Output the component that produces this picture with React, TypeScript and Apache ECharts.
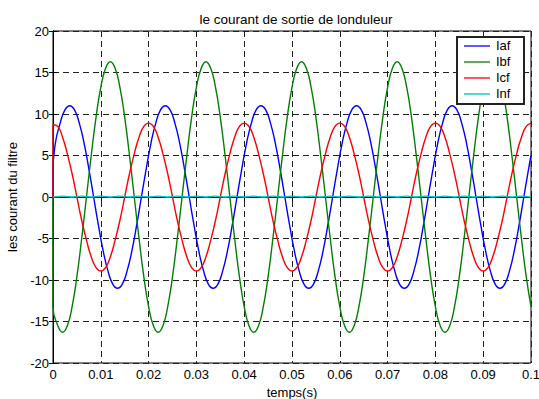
import React, { useEffect, useRef } from 'react';
import * as echarts from 'echarts';

const TITLE = 'le courant de sortie de londuleur';
const X_NAME = 'temps(s)';
const Y_NAME = 'les courant du filtre';
const SERIES_NAMES = ['Iaf', 'Ibf', 'Icf', 'Inf'];
const SERIES_COLORS = ['#0000ff', '#008000', '#ff0000', '#00bfbf'];

// sample step of the time axis (s) and the time of each series' first regular sample
const T_STEP = 0.001;
const SERIES_T0 = [0.0005, 0, 0, 0];

// the simulation starts from zero current at t = 0
const START_VALUE = 0;
// first (t = 0) and last (t = 0.1) values of Iaf, which is sampled off-grid
const IAF_START = 3.0;
const IAF_END = 5.0;

const iaf = [
  6.5, 8.9, 10.5, 11.0, 10.5, 8.9, 6.5, 3.4, 0.0, -3.4, -6.5, -8.9, -10.5, -11.0, -10.5, -8.9, -6.5, -3.4, 0.0, 3.4,
  6.5, 8.9, 10.5, 11.0, 10.5, 8.9, 6.5, 3.4, 0.0, -3.4, -6.5, -8.9, -10.5, -11.0, -10.5, -8.9, -6.5, -3.4, 0.0, 3.4,
  6.5, 8.9, 10.5, 11.0, 10.5, 8.9, 6.5, 3.4, 0.0, -3.4, -6.5, -8.9, -10.5, -11.0, -10.5, -8.9, -6.5, -3.4, 0.0, 3.4,
  6.5, 8.9, 10.5, 11.0, 10.5, 8.9, 6.5, 3.4, 0.0, -3.4, -6.5, -8.9, -10.5, -11.0, -10.5, -8.9, -6.5, -3.4, 0.0, 3.4,
  6.5, 8.9, 10.5, 11.0, 10.5, 8.9, 6.5, 3.4, 0.0, -3.4, -6.5, -8.9, -10.5, -11.0, -10.5, -8.9, -6.5, -3.4, 0.0, 3.4,
];

const ibf = [
  -13.2, -15.5, -16.3, -15.5, -13.2, -9.6, -5.0, 0.0, 5.0, 9.6, 13.2, 15.5, 16.3, 15.5, 13.2, 9.6, 5.0, 0.0, -5.0, -9.6,
  -13.2, -15.5, -16.3, -15.5, -13.2, -9.6, -5.0, 0.0, 5.0, 9.6, 13.2, 15.5, 16.3, 15.5, 13.2, 9.6, 5.0, 0.0, -5.0, -9.6,
  -13.2, -15.5, -16.3, -15.5, -13.2, -9.6, -5.0, 0.0, 5.0, 9.6, 13.2, 15.5, 16.3, 15.5, 13.2, 9.6, 5.0, 0.0, -5.0, -9.6,
  -13.2, -15.5, -16.3, -15.5, -13.2, -9.6, -5.0, 0.0, 5.0, 9.6, 13.2, 15.5, 16.3, 15.5, 13.2, 9.6, 5.0, 0.0, -5.0, -9.6,
  -13.2, -15.5, -16.3, -15.5, -13.2, -9.6, -5.0, 0.0, 5.0, 9.6, 13.2, 15.5, 16.3, 15.5, 13.2, 9.6, 5.0, 0.0, -5.0, -9.6,
  -13.2,
];

const icf = [
  8.7, 8.5, 7.2, 5.2, 2.8, 0.0, -2.8, -5.2, -7.2, -8.5, -8.9, -8.5, -7.2, -5.2, -2.8, 0.0, 2.8, 5.2, 7.2, 8.5,
  8.9, 8.5, 7.2, 5.2, 2.8, 0.0, -2.8, -5.2, -7.2, -8.5, -8.9, -8.5, -7.2, -5.2, -2.8, 0.0, 2.8, 5.2, 7.2, 8.5,
  8.9, 8.5, 7.2, 5.2, 2.8, 0.0, -2.8, -5.2, -7.2, -8.5, -8.9, -8.5, -7.2, -5.2, -2.8, 0.0, 2.8, 5.2, 7.2, 8.5,
  8.9, 8.5, 7.2, 5.2, 2.8, 0.0, -2.8, -5.2, -7.2, -8.5, -8.9, -8.5, -7.2, -5.2, -2.8, 0.0, 2.8, 5.2, 7.2, 8.5,
  8.9, 8.5, 7.2, 5.2, 2.8, 0.0, -2.8, -5.2, -7.2, -8.5, -8.9, -8.5, -7.2, -5.2, -2.8, 0.0, 2.8, 5.2, 7.2, 8.5,
  8.9,
];

const inf = [
  0.0, 0.05, 0.1, 0.05, 0.0, 0.05, 0.1, 0.05, 0.0, 0.05, 0.1, 0.05, 0.0, 0.05, 0.1, 0.05, 0.0, 0.05, 0.1, 0.05,
  0.0, 0.05, 0.1, 0.05, 0.0, 0.05, 0.1, 0.05, 0.0, 0.05, 0.1, 0.05, 0.0, 0.05, 0.1, 0.05, 0.0, 0.05, 0.1, 0.05,
  0.0, 0.05, 0.1, 0.05, 0.0, 0.05, 0.1, 0.05, 0.0, 0.05, 0.1, 0.05, 0.0, 0.05, 0.1, 0.05, 0.0, 0.05, 0.1, 0.05,
  0.0, 0.05, 0.1, 0.05, 0.0, 0.05, 0.1, 0.05, 0.0, 0.05, 0.1, 0.05, 0.0, 0.05, 0.1, 0.05, 0.0, 0.05, 0.1, 0.05,
  0.0, 0.05, 0.1, 0.05, 0.0, 0.05, 0.1, 0.05, 0.0, 0.05, 0.1, 0.05, 0.0, 0.05, 0.1, 0.05, 0.0, 0.05, 0.1, 0.05,
  0.0,
];

const SERIES_VALUES = [iaf, ibf, icf, inf];

const X_MIN = 0;
const X_MAX = 0.1;
const X_INTERVAL = 0.01;
const Y_MIN = -20;
const Y_MAX = 20;
const Y_INTERVAL = 5;

const FONT = "'Liberation Sans', Arial, sans-serif";

export default function App() {
  const ref = useRef<HTMLDivElement>(null);

  useEffect(() => {
    document.body.style.margin = '0';
    const chart = echarts.init(ref.current!, null, { renderer: 'svg' });

    const dashed = { show: true, lineStyle: { color: '#222', width: 1, type: [6, 4] as any } };
    const tick = { show: true, inside: true, length: 4, lineStyle: { color: '#000' } };
    const axisLine = { show: true, lineStyle: { color: '#000', width: 1 } };

    const series = SERIES_VALUES.map((vals, si) => {
      const pts: number[][] = vals.map((v, i) => [SERIES_T0[si] + i * T_STEP, v]);
      if (si === 0) {
        pts.unshift([X_MIN, IAF_START]);
        pts.push([X_MAX, IAF_END]);
      }
      if (si < 3) pts.unshift([X_MIN, START_VALUE]);
      return {
        name: SERIES_NAMES[si],
        type: 'line',
        xAxisIndex: 0,
        yAxisIndex: 0,
        data: pts,
        symbol: 'none',
        smooth: 0.5,
        lineStyle: { color: SERIES_COLORS[si], width: 1.4 },
        itemStyle: { color: SERIES_COLORS[si] },
      };
    });

    // legend box (MATLAB style), drawn as graphic elements
    const LEG_X = 457;
    const LEG_Y = 37;
    const LEG_W = 67;
    const LEG_H = 67;
    const ROW_Y = [46, 62, 78, 94];
    const legendEls: any[] = [
      {
        type: 'rect',
        shape: { x: LEG_X, y: LEG_Y, width: LEG_W, height: LEG_H },
        style: { fill: '#fff', stroke: '#222', lineWidth: 2 },
        z: 100,
      },
    ];
    SERIES_NAMES.forEach((n, i) => {
      legendEls.push({
        type: 'line',
        shape: { x1: LEG_X + 7, y1: ROW_Y[i], x2: LEG_X + 33, y2: ROW_Y[i] },
        style: { stroke: SERIES_COLORS[i], lineWidth: 1.3 },
        z: 101,
      });
      legendEls.push({
        type: 'text',
        x: LEG_X + 39,
        y: ROW_Y[i] - 0.5,
        style: {
          text: n,
          fill: '#000',
          font: `13px ${FONT}`,
          textVerticalAlign: 'middle',
          verticalAlign: 'middle',
        },
        z: 101,
      });
    });

    chart.setOption({
      animation: false,
      backgroundColor: '#fff',
      textStyle: { fontFamily: FONT },
      title: {
        text: TITLE,
        left: 291,
        top: 7,
        textAlign: 'center',
        textStyle: { fontSize: 13.5, fontWeight: 'normal', color: '#000', fontFamily: FONT },
      },
      grid: {
        left: 53,
        top: 31,
        width: 478,
        height: 332,
        show: true,
        borderColor: '#000',
        borderWidth: 1,
        backgroundColor: '#fff',
        containLabel: false,
        outerBoundsMode: 'none',
      },
      xAxis: [
        {
          type: 'value',
          min: X_MIN,
          max: X_MAX,
          interval: X_INTERVAL,
          name: X_NAME,
          nameLocation: 'middle',
          nameGap: 20,
          nameTextStyle: { fontSize: 13, color: '#000', fontFamily: FONT },
          axisLine,
          axisTick: tick,
          axisLabel: { fontSize: 13, color: '#000', margin: 5, fontFamily: FONT },
          splitLine: dashed,
        },
        {
          type: 'value',
          position: 'top',
          min: X_MIN,
          max: X_MAX,
          interval: X_INTERVAL,
          axisLine,
          axisTick: tick,
          axisLabel: { show: false },
          splitLine: { show: false },
        },
      ],
      yAxis: [
        {
          type: 'value',
          min: Y_MIN,
          max: Y_MAX,
          interval: Y_INTERVAL,
          name: Y_NAME,
          nameLocation: 'middle',
          nameGap: 33,
          nameTextStyle: { fontSize: 13, color: '#000', fontFamily: FONT },
          axisLine,
          axisTick: tick,
          axisLabel: { fontSize: 13, color: '#000', margin: 4, fontFamily: FONT },
          splitLine: dashed,
        },
        {
          type: 'value',
          position: 'right',
          min: Y_MIN,
          max: Y_MAX,
          interval: Y_INTERVAL,
          axisLine,
          axisTick: tick,
          axisLabel: { show: false },
          splitLine: { show: false },
        },
      ],
      series,
      graphic: legendEls,
    });

    return () => chart.dispose();
  }, []);

  return <div ref={ref} style={{ width: 539, height: 399 }} />;
}
